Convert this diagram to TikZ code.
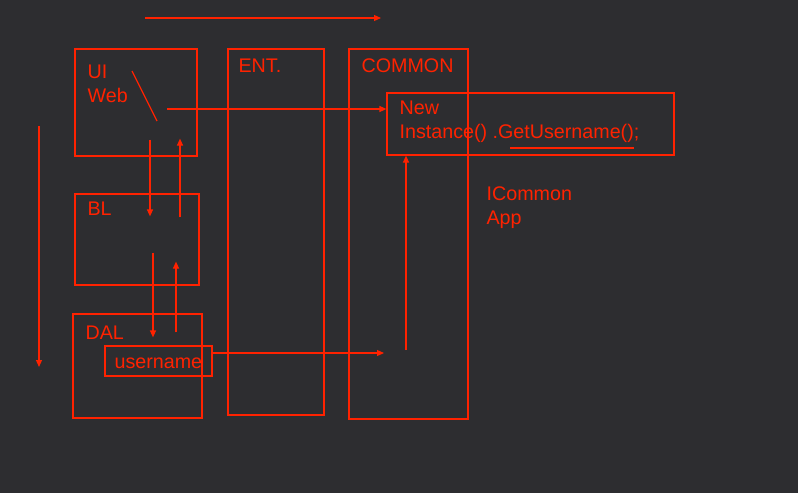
\documentclass[tikz,border=0pt]{standalone}
\usepackage{fontspec}
\setmainfont{Liberation Sans}
\usetikzlibrary{arrows.meta}

\definecolor{slide}{HTML}{2D2D30}
\definecolor{pen}{HTML}{FF2200}

\begin{document}
\begin{tikzpicture}[x=1pt,y=-1pt,->,>={Triangle[length=7pt,width=6pt]},line width=1.2pt,draw=pen,text=pen,font=\fontsize{19.7}{24}\selectfont]
  \tikzstyle{box}=[draw=pen,rectangle,inner sep=0pt]
  \tikzstyle{tag}=[anchor=base west,inner sep=0pt,align=left]

  \fill[slide] (0,0) rectangle (798,493);

  % layers
  \node[box,minimum width=122,minimum height=107] (ui) at (136,102.5) {};
  \node[box,minimum width=124,minimum height=91] (bl) at (137,239.5) {};
  \node[box,minimum width=129,minimum height=104] (dal) at (137.5,366) {};
  \node[box,minimum width=96,minimum height=366] (ent) at (276,232) {};
  \node[box,minimum width=119,minimum height=370] (common) at (408.5,234) {};
  \node[box,minimum width=287,minimum height=62] (new) at (530.5,124) {};
  \node[box,minimum width=107,minimum height=30] (user) at (158.5,361) {};

  % texts (base = last line)
  \node[tag] at (87,102) {UI\\Web};
  \node[tag] at (87,215) {BL};
  \node[tag] at (85,339) {DAL};
  \node[tag] at (238,72) {ENT.};
  \node[tag] at (361,72) {COMMON};
  \node[tag] at (399,138) {New\\Instance() .GetUsername();};
  \node[tag] at (114,368) {username};
  \node[tag] at (486,224) {ICommon\\App};

  % flow
  \coordinate (topL) at (145,18);
  \coordinate (topR) at (381,18);
  \coordinate (leftT) at (39,126);
  \coordinate (leftB) at (39,367);
  \draw (topL) -- (topR);
  \draw (leftT) -- (leftB);

  \coordinate (uiOut) at (167,109);
  \draw (uiOut) -- (uiOut -| new.west);
  \draw[-] (132,71) -- (157,121);

  \draw ([shift={(14,-17)}]ui.south) -- ([shift={(13,23)}]bl.north);
  \draw ([shift={(43,24)}]bl.north) -- ([shift={(44,-18)}]ui.south);
  \draw ([shift={(16,-33)}]bl.south) -- ([shift={(15.5,24)}]dal.north);
  \draw ([shift={(38.5,19)}]dal.north) -- ([shift={(39,-24)}]bl.south);

  \coordinate (dalOut) at (384,353);
  \draw (dalOut -| user.east) -- (dalOut);
  \coordinate (upFoot) at (406,350);
  \draw (upFoot) -- (upFoot |- new.south);
  \draw[-] (510,148) -- (634,148);

\end{tikzpicture}
\end{document}
